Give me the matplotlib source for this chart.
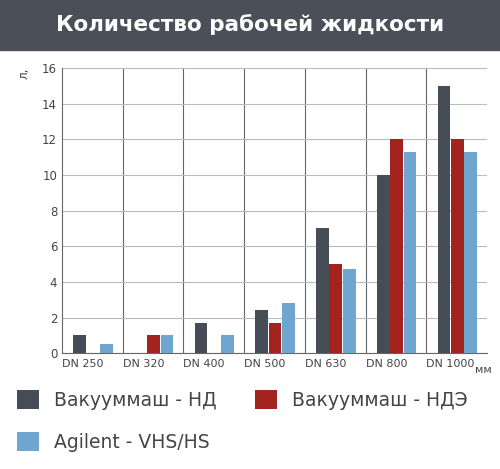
import numpy as np
import matplotlib.pyplot as plt
from matplotlib.patches import Rectangle

categories = ['DN 250', 'DN 320', 'DN 400', 'DN 500', 'DN 630', 'DN 800', 'DN 1000']
nd = [1, 0, 1.7, 2.4, 7, 10, 15]
nde = [0, 1, 0, 1.7, 5, 12, 12]
agilent = [0.5, 1, 1, 2.8, 4.7, 11.3, 11.3]
series = [('Вакууммаш - НД', nd, '#474d57'),
          ('Вакууммаш - НДЭ', nde, '#a3231f'),
          ('Agilent - VHS/HS', agilent, '#6fa6cf')]

fig = plt.figure(figsize=(5, 4.69), dpi=100)

# title banner
fig.patches.append(Rectangle((0, 0.893), 1, 0.107, transform=fig.transFigure,
                             color='#4b5058', zorder=0))
fig.text(0.5, 0.948, 'Количество рабочей жидкости', color='white',
         fontsize=15.5, fontweight='bold', ha='center', va='center')

ax = fig.add_axes([0.124, 0.247, 0.85, 0.608])
x = np.arange(len(categories))
offsets = [0.29, 0.51, 0.73]
for (name, vals, col), off in zip(series, offsets):
    ax.bar(x + off, vals, width=0.21, color=col, label=name, zorder=3)

ax.set_xlim(0, len(categories))
ax.set_ylim(0, 16)
ax.set_yticks(range(0, 17, 2))
ax.set_xticks(x)
ax.set_xticklabels(categories, ha='left', fontsize=8, color='#444444')
ax.tick_params(axis='y', labelsize=8.5, colors='#444444', length=0)
ax.tick_params(axis='x', length=0, pad=4)
ax.grid(axis='y', color='#bbbbbb', linewidth=0.8, zorder=0)
for xi in range(1, len(categories)):
    ax.axvline(xi, color='#666666', linewidth=0.8, zorder=1)
for s in ['top', 'right']:
    ax.spines[s].set_visible(False)
ax.spines['left'].set_color('#666666')
ax.spines['bottom'].set_color('#666666')
ax.text(6.8, -0.95, 'мм', fontsize=8, color='#444444', va='center')
fig.text(0.035, 0.855, 'л,', rotation=90, fontsize=8.5, color='#444444', va='top')

handles, labels = ax.get_legend_handles_labels()
fig.legend(handles[:2], labels[:2], loc='lower left', bbox_to_anchor=(0.0, 0.09),
           ncol=2, frameon=False, fontsize=13.5, handlelength=1.2, handleheight=1.2,
           columnspacing=2.0, labelcolor='#444444')
fig.legend(handles[2:], labels[2:], loc='lower left', bbox_to_anchor=(0.0, 0.0),
           frameon=False, fontsize=13.5, handlelength=1.2, handleheight=1.2,
           labelcolor='#444444')

fig.savefig('out.png', dpi=100)
